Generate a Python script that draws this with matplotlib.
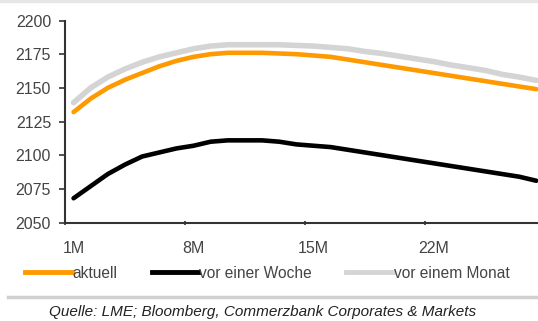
import matplotlib
matplotlib.use("Agg")
import matplotlib.pyplot as plt
from matplotlib.lines import Line2D

plt.rcParams['font.family'] = ['Liberation Sans', 'DejaVu Sans']

months = list(range(1, 29))
tick_labels = ["1M", "8M", "15M", "22M"]
label_months = [1, 8, 15, 22]

aktuell = [2132, 2142, 2150, 2156, 2161, 2166, 2170, 2173, 2175, 2176,
           2176, 2176, 2175.5, 2175, 2174, 2173, 2171, 2169, 2167, 2165,
           2163, 2161, 2159, 2157, 2155, 2153, 2151, 2149]
vor_woche = [2068, 2077, 2086, 2093, 2099, 2102, 2105, 2107, 2110, 2111,
             2111, 2111, 2110, 2108, 2107, 2106, 2104, 2102, 2100, 2098,
             2096, 2094, 2092, 2090, 2088, 2086, 2084, 2081]
vor_monat = [2139, 2150, 2158, 2164, 2169, 2173, 2176, 2179, 2181, 2182,
             2182, 2182, 2182, 2181.5, 2181, 2180, 2179, 2177, 2175.5, 2173.5,
             2171.5, 2169.5, 2167, 2165, 2163, 2160, 2158, 2155.5]
series_names = ["aktuell", "vor einer Woche", "vor einem Monat"]
colors = ["#FF9900", "#000000", "#D4D4D4"]

fig = plt.figure(figsize=(5.38, 3.21), dpi=100)
ax = fig.add_axes([65/538, 1-222.5/321, 1-65/538, (222.5-20.5)/321])

ax.plot(months, vor_monat, color=colors[2], lw=4.0, solid_capstyle='round', zorder=2)
ax.plot(months, aktuell, color=colors[0], lw=3.3, solid_capstyle='round', zorder=3)
ax.plot(months, vor_woche, color=colors[1], lw=3.3, solid_capstyle='round', zorder=3)

ax.set_ylim(2050, 2200)
ax.set_yticks(range(2050, 2201, 25))
ax.set_xlim(0.5, 0.5 + (538-65)/17.14)
ax.set_xticks(label_months)
ax.set_xticklabels(tick_labels)
ax.set_xticks([0.5, 7.5, 14.5, 21.5], minor=True)
ax.tick_params(axis='x', which='major', length=0, pad=13, labelsize=11.5, labelcolor='#444444')
ax.tick_params(axis='x', which='minor', length=3, width=1.2, color='#333333', direction='inout')
ax.tick_params(axis='y', length=4, width=1.2, color='#333333', labelsize=11.5, labelcolor='#444444', pad=6)
for s in ['top', 'right']:
    ax.spines[s].set_visible(False)
for s in ['left', 'bottom']:
    ax.spines[s].set_color('#333333')
    ax.spines[s].set_linewidth(1.5)

handles = [Line2D([], [], color=c, lw=3.5) for c in colors]
fig.legend(handles, series_names, loc='center left', bbox_to_anchor=(25/538, 1-273/321),
           ncol=3, frameon=False, handlelength=3.0, handletextpad=0.05, columnspacing=2.2,
           fontsize=11.2, labelcolor='#444444', borderaxespad=0, borderpad=0)

fig.add_artist(Line2D([8/538, 1], [1-297/321]*2, color='#D0D0D0', lw=2.5))
fig.add_artist(Line2D([0, 1], [1-1/321]*2, color='#E6E6E6', lw=2.5))
fig.text(263/538, 1-312/321, "Quelle: LME; Bloomberg, Commerzbank Corporates & Markets",
         ha='center', va='center', style='italic', fontsize=11, color='#222222')

fig.savefig("out.png", dpi=100)
